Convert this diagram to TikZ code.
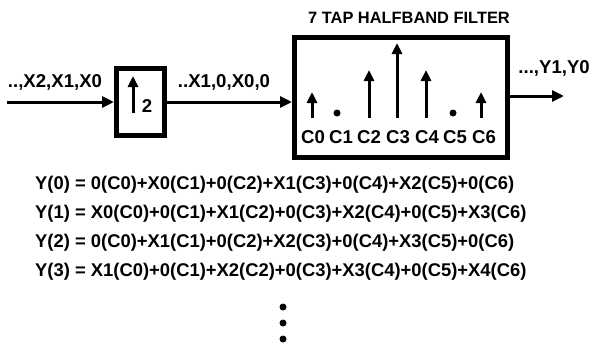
\documentclass[tikz,border=0pt]{standalone}
\usepackage{fontspec}
\setmainfont{Liberation Sans}
\usetikzlibrary{arrows.meta}
\begin{document}
\begin{tikzpicture}[x=1pt,y=-1pt,
  lbl/.style={inner sep=0pt, font=\bfseries\fontsize{18.6}{21}\selectfont},
  eqn/.style={inner sep=0pt, anchor=base west, font=\bfseries\fontsize{18.4}{21}\selectfont},
  ttl/.style={inner sep=0pt, font=\bfseries\fontsize{16.4}{19}\selectfont},
  thickbox/.style={draw, line width=5pt, inner sep=0pt},
  arr/.style={line width=3pt, -{Triangle[length=12pt,width=11pt]}},
  imp/.style={line width=3pt, -{Triangle[length=11pt,width=10pt]}},
  dotc/.style={fill, circle, inner sep=0pt, minimum size=7pt}]
\useasboundingbox (0,0) rectangle (593,345);
% boxes
\node[thickbox, minimum width=48pt, minimum height=67pt] (up) at (140.5,102) {};
\node[thickbox, minimum width=213pt, minimum height=120pt] (filt) at (401,97.5) {};
% connectors
\coordinate (inL) at (7,102);
\coordinate (outR) at (564,96);
\draw[arr] (inL) -- (inL -| up.west);
\draw[arr] (up.east) -- (up.east -| filt.west);
\draw[arr] (outR -| filt.east) -- (outR);
% labels
\node[lbl] (lin) at (55,82) {..,X2,X1,X0};
\node[lbl] (lmid) at (224,82) {..X1,0,X0,0};
\node[lbl, anchor=east] (lout) at (590,68) {...,Y1,Y0};
\node[ttl] (title) at (409,18) {7 TAP HALFBAND FILTER};
% upsampler
\draw[imp] (133,113) -- (133,76);
\node[lbl] (two) at (147,106) {2};
% impulses
\draw[imp] (312,118) -- (312,92);
\node[dotc] (d1) at (337,113) {};
\draw[imp] (369,118) -- (369,70);
\draw[imp] (397,118) -- (397,43);
\draw[imp] (426,118) -- (426,70);
\node[dotc] (d5) at (453,113) {};
\draw[imp] (481,118) -- (481,92);
\node[lbl] (c0) at (313,137) {C0};
\node[lbl] (c1) at (341,137) {C1};
\node[lbl] (c2) at (369,137) {C2};
\node[lbl] (c3) at (398,137) {C3};
\node[lbl] (c4) at (427,137) {C4};
\node[lbl] (c5) at (455,137) {C5};
\node[lbl] (c6) at (484,137) {C6};
% equations
\node[eqn] (e0) at (35,189) {Y(0) = 0(C0)+X0(C1)+0(C2)+X1(C3)+0(C4)+X2(C5)+0(C6)};
\node[eqn] (e1) at (35,218) {Y(1) = X0(C0)+0(C1)+X1(C2)+0(C3)+X2(C4)+0(C5)+X3(C6)};
\node[eqn] (e2) at (35,247) {Y(2) = 0(C0)+X1(C1)+0(C2)+X2(C3)+0(C4)+X3(C5)+0(C6)};
\node[eqn] (e3) at (35,276) {Y(3) = X1(C0)+0(C1)+X2(C2)+0(C3)+X3(C4)+0(C5)+X4(C6)};
% vertical dots
\node[dotc] (v1) at (283,307) {};
\node[dotc] (v2) at (283,323) {};
\node[dotc] (v3) at (283,339) {};
\end{tikzpicture}
\end{document}
